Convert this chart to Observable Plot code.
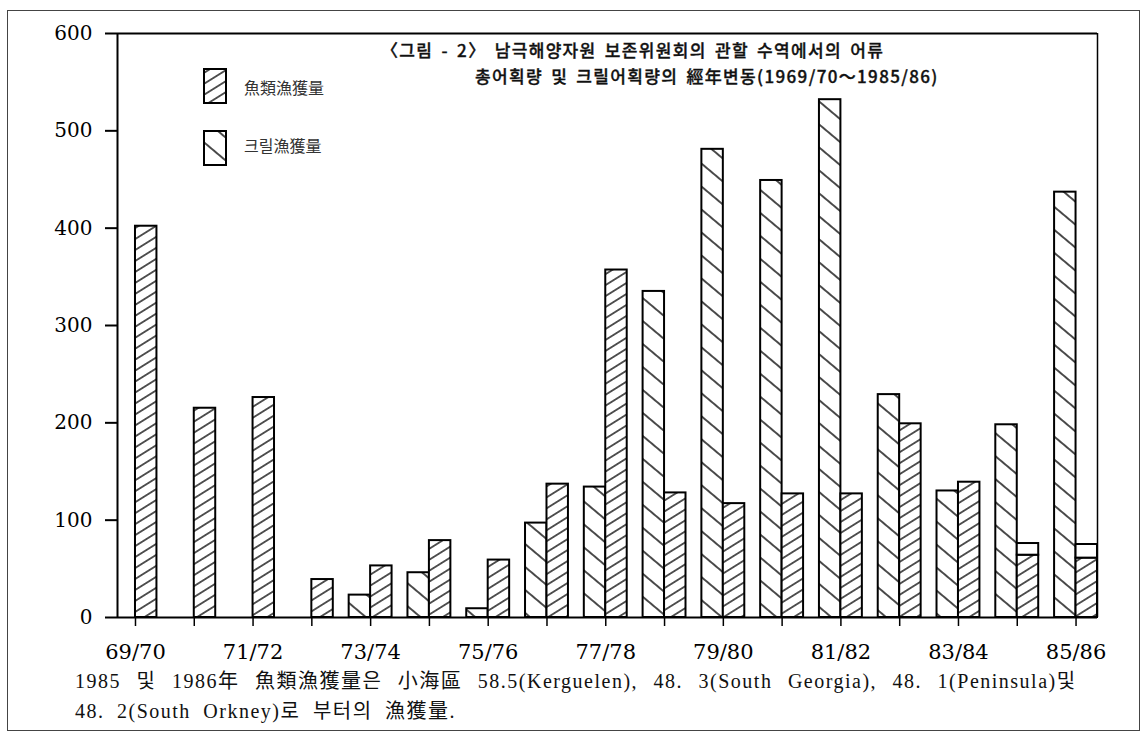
<!DOCTYPE html>
<html>
<head>
<meta charset="utf-8">
<script src="https://cdn.jsdelivr.net/npm/d3@7"></script>
<script src="https://cdn.jsdelivr.net/npm/@observablehq/plot@0.6"></script>
<style>
  html, body { margin: 0; padding: 0; background: white; }
  #wrap { position: relative; width: 1147px; height: 735px; overflow: hidden; background: white; }
  #border { position: absolute; left: 7px; top: 10px; width: 1133px; height: 721px; border: 1.5px solid #444; box-sizing: border-box; }
  #chart { position: absolute; left: 0; top: 0; }
  .title { position: absolute; font-family: "Noto Sans CJK KR", sans-serif; font-size: 17px; font-weight: 500; color: #111; white-space: nowrap; line-height: 26px; letter-spacing: 1.35px; word-spacing: 3px; -webkit-text-stroke: 0.35px #111; }
  .legend-label { position: absolute; font-family: "Noto Sans CJK KR", serif; font-size: 16px; color: #333; white-space: nowrap; line-height: 20px; }
  .swatch { position: absolute; }
  .caption { position: absolute; left: 75px; font-family: "Liberation Serif", "Noto Sans CJK KR", serif; font-size: 20px; color: #111; white-space: nowrap; line-height: 30px; letter-spacing: 1.5px; word-spacing: 6px; }
</style>
</head>
<body>
<svg width="0" height="0" style="position:absolute">
  <defs>
    <pattern id="krillHatch" patternUnits="userSpaceOnUse" width="20" height="17.6" patternTransform="rotate(40)">
      <rect width="20" height="17.6" fill="white"/>
      <line x1="0" y1="8.8" x2="20" y2="8.8" stroke="black" stroke-width="1.4"/>
    </pattern>
    <pattern id="fishHatch" patternUnits="userSpaceOnUse" width="20" height="9.3" patternTransform="rotate(-32)">
      <rect width="20" height="9.3" fill="white"/>
      <line x1="0" y1="4.65" x2="20" y2="4.65" stroke="black" stroke-width="1.3"/>
    </pattern>
  </defs>
</svg>
<div id="wrap">
  <div id="chart"></div>
  <div id="border"></div>
  <div class="title" style="left:381px; top:37px;">〈그림 - 2〉 남극해양자원 보존위원회의 관할 수역에서의 어류</div>
  <div class="title" style="left:475px; top:63px;">총어획량 및 크릴어획량의 經年변동(1969/70～1985/86)</div>
  <svg class="swatch" style="left:203px; top:68px;" width="24" height="36"><rect x="1" y="1" width="22" height="34" fill="url(#fishHatch)" stroke="black" stroke-width="2"/></svg>
  <div class="legend-label" style="left:244px; top:77px;">魚類漁獲量</div>
  <svg class="swatch" style="left:203px; top:130px;" width="24" height="36"><rect x="1" y="1" width="22" height="34" fill="url(#krillHatch)" stroke="black" stroke-width="2"/></svg>
  <div class="legend-label" style="left:244px; top:135px;">크릴漁獲量</div>
  <div class="caption" style="top:666px; word-spacing: 9px;">1985 및 1986年 魚類漁獲量은 小海區 58.5(Kerguelen), 48. 3(South Georgia), 48. 1(Peninsula)및</div>
  <div class="caption" style="top:696px;">48. 2(South Orkney)로 부터의 漁獲量.</div>
</div>
<script>
// Seasons (1969/70 – 1985/86)
const seasons = ["69/70","70/71","71/72","72/73","73/74","74/75","75/76","76/77","77/78",
                 "78/79","79/80","80/81","81/82","82/83","83/84","84/85","85/86"];
// Krill catch (크릴漁獲量), thousand tonnes; null = no bar
const krill = [null, null, null, null, 23, 46, 9, 97, 134, 335, 481, 449, 532, 229, 130, 198, 437];
// Fish catch (魚類漁獲量), hatched part
const fish = [402, 215, 226, 39, 53, 79, 59, 137, 357, 128, 117, 127, 127, 199, 139, 64, 61];
// Additional (unhatched) fish catch on top of the hatched part
const fishOther = [0, 0, 0, 0, 0, 0, 0, 0, 0, 0, 0, 0, 0, 0, 0, 12, 14];
// Y axis ticks
const yTicks = [0, 100, 200, 300, 400, 500, 600];

const halfBar = 0.365; // bar width, in season-index units

const rows = seasons.map((s, i) => ({i, season: s, krill: krill[i], fish: fish[i], other: fishOther[i]}));
const xDomain = [-0.306, seasons.length - 1 + halfBar];

const chart = Plot.plot({
  width: 1147,
  height: 735,
  marginLeft: 117,
  marginRight: 50,
  marginTop: 33,
  marginBottom: 118,
  style: {fontFamily: "DejaVu Serif, serif", fontSize: "20px", color: "black", background: "transparent"},
  x: {type: "linear", domain: xDomain},
  y: {domain: [0, 600]},
  marks: [
    Plot.rectY(rows.filter(d => d.krill != null), {
      x1: d => d.i - halfBar, x2: d => d.i, y1: 0, y2: "krill",
      fill: "url(#krillHatch)", stroke: "black", strokeWidth: 2
    }),
    Plot.rectY(rows, {
      x1: d => d.i, x2: d => d.i + halfBar, y1: 0, y2: "fish",
      fill: "url(#fishHatch)", stroke: "black", strokeWidth: 2
    }),
    Plot.rectY(rows.filter(d => d.other > 0), {
      x1: d => d.i, x2: d => d.i + halfBar, y1: "fish", y2: d => d.fish + d.other,
      fill: "white", stroke: "black", strokeWidth: 2
    }),
    Plot.ruleY([0], {stroke: "black", strokeWidth: 2}),
    Plot.ruleY([600], {stroke: "black", strokeWidth: 2}),
    Plot.ruleX([xDomain[0]], {y1: 0, y2: 600, stroke: "black", strokeWidth: 2}),
    Plot.ruleX([xDomain[1]], {y1: 0, y2: 600, stroke: "black", strokeWidth: 1.5}),
    Plot.axisY({ticks: yTicks, tickSize: 12, tickPadding: 13, strokeWidth: 2, label: null, fontSize: 20}),
    Plot.axisX({ticks: d3.range(seasons.length), tickSize: 9, tickPadding: 18, strokeWidth: 1.5,
      tickFormat: i => (i % 2 === 0 ? seasons[i] : ""), label: null, fontSize: 21})
  ]
});
document.getElementById("chart").appendChild(chart);
</script>
</body>
</html>
